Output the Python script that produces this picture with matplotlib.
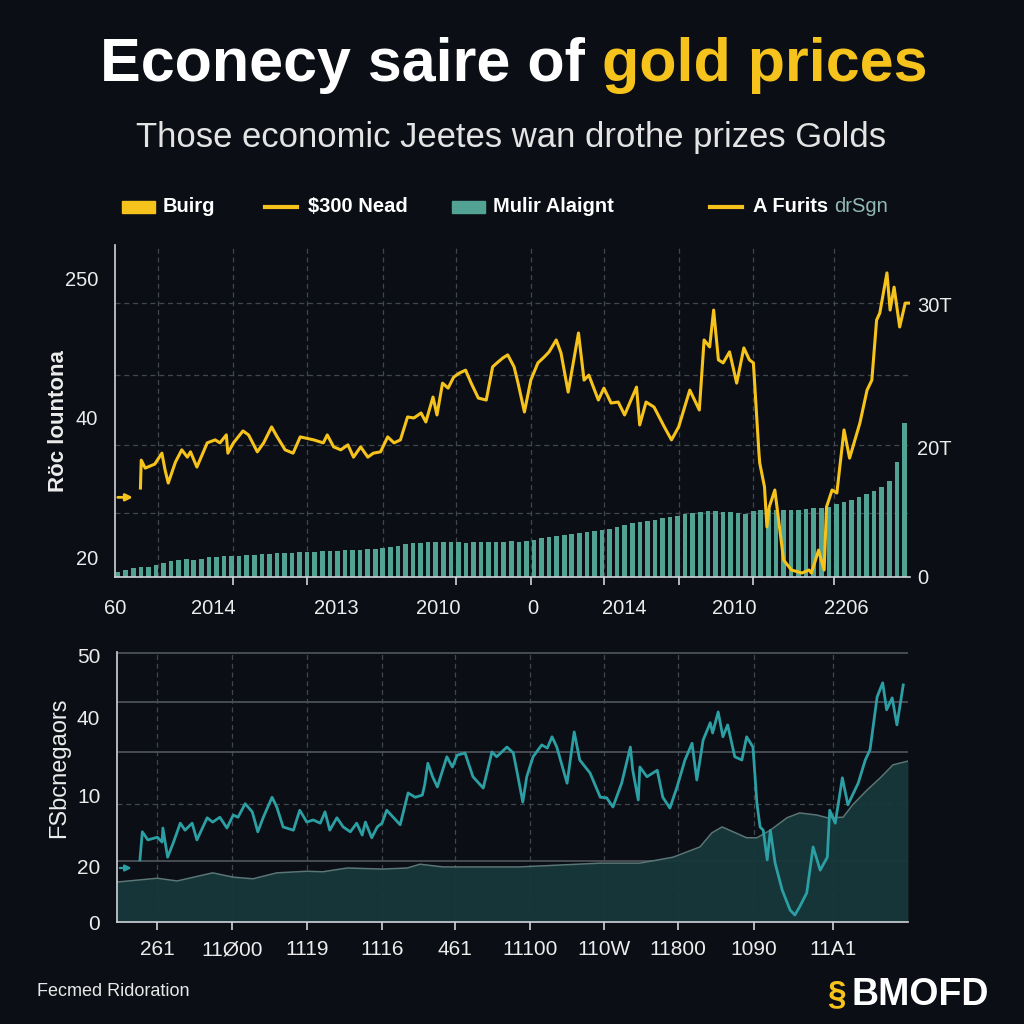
import matplotlib
matplotlib.use("Agg")
import matplotlib.pyplot as plt
from matplotlib.patches import Rectangle
from matplotlib.lines import Line2D
import numpy as np

# ---- colours
BG = "#0b0e15"
GOLD = "#f6c31c"
TEAL_BAR = "#52a393"
TEAL_LINE = "#2b9fa3"
AREA_FILL = "#17383b"
AREA_EDGE = "#5b7676"
GRID = "#41464e"
SPINE = "#d0d3d8"
TXT = "#ececec"

# ---- top panel data (index units, 0..100)
gold_x = [3.2, 3.3, 3.8, 5.0, 5.9, 6.3, 6.7, 7.6, 8.4, 9.1, 9.5, 10.3, 11.6, 12.6, 13.2,
          14.0, 14.2, 14.9, 16.1, 16.8, 17.9, 18.7, 19.7, 20.4, 21.4, 22.4, 23.3, 25.0,
          26.2, 26.7, 27.5, 28.4, 29.3, 30.0, 30.9, 31.8, 32.5, 33.4, 34.3, 35.1, 35.9,
          36.8, 37.6, 38.5, 39.1, 40.0, 40.5, 41.2, 41.9, 42.6, 43.3, 44.1, 44.8, 45.7,
          46.7, 47.5, 48.2, 48.8, 49.4, 50.2, 50.7, 51.5, 52.3, 53.2, 54.0, 54.6, 55.5,
          56.1, 57.0, 58.3, 59.0, 59.6, 60.8, 61.5, 62.4, 63.3, 64.1, 65.6, 66.0, 66.8,
          67.8, 69.1, 70.0, 70.9, 72.3, 73.5, 74.1, 74.8, 75.3, 75.9, 76.5, 77.3, 78.2,
          79.1, 79.8, 80.3, 81.0, 81.1, 81.7, 82.0, 82.3, 83.0, 84.1, 85.1, 86.4, 87.3,
          87.6, 88.5, 89.2, 89.5, 90.2, 90.8, 91.7, 92.4, 93.7, 94.6, 95.2, 95.8, 96.2,
          97.1, 97.5, 98.0, 98.7, 99.4, 99.9]
gold_y = [26.8, 35.2, 32.8, 34.0, 37.3, 32.2, 28.3, 34.6, 38.3, 36.1, 37.7, 33.1, 40.4,
          41.3, 40.4, 42.8, 37.3, 40.4, 44.0, 42.8, 37.7, 40.4, 45.2, 42.2, 38.3, 37.3,
          42.2, 41.3, 40.4, 42.8, 39.2, 38.3, 39.8, 36.1, 39.2, 36.1, 37.3, 37.7, 42.2,
          40.4, 41.3, 48.2, 47.9, 49.4, 46.7, 54.2, 48.8, 58.4, 56.9, 60.2, 61.4, 62.3,
          58.4, 53.9, 53.3, 63.3, 64.8, 66.0, 66.9, 63.3, 58.4, 49.7, 59.3, 64.5, 66.3,
          67.8, 71.4, 67.5, 55.7, 73.5, 59.3, 60.8, 53.3, 56.9, 52.4, 52.7, 48.8, 57.2,
          45.8, 52.7, 51.2, 45.2, 41.3, 45.2, 56.3, 50.3, 71.4, 69.3, 80.4, 65.4, 64.5,
          67.8, 58.4, 69.0, 65.4, 64.5, 37.3, 34.3, 27.1, 15.1, 21.1, 26.2, 5.1, 2.1,
          1.2, 2.1, 1.2, 8.1, 2.1, 21.1, 26.2, 25.3, 44.3, 35.8, 46.4, 56.3, 59.3, 77.4,
          79.5, 91.6, 80.4, 87.3, 75.3, 82.5, 82.5]

bar_h = [1.5, 2.1, 2.7, 3.0, 3.0, 3.6, 4.2, 4.8, 5.1, 5.4, 5.1, 5.4, 6.0, 6.0, 6.3, 6.3,
         6.3, 6.6, 6.6, 6.9, 6.9, 7.2, 7.2, 7.2, 7.5, 7.5, 7.5, 7.8, 7.8, 7.8, 8.1, 8.1,
         8.1, 8.4, 8.4, 8.7, 9.0, 9.3, 9.9, 10.2, 10.2, 10.5, 10.5, 10.5, 10.5, 10.5, 10.2,
         10.5, 10.5, 10.5, 10.5, 10.5, 10.8, 10.5, 10.8, 11.1, 11.7, 12.0, 12.3, 12.7,
         13.0, 13.3, 13.6, 13.9, 14.2, 14.5, 15.1, 15.7, 16.3, 16.6, 16.9, 17.2, 17.8,
         18.1, 18.4, 19.0, 19.3, 19.6, 19.9, 19.9, 19.6, 19.6, 19.3, 19.0, 19.9, 20.2,
         20.2, 20.2, 20.2, 20.2, 20.2, 20.5, 20.8, 20.8, 21.1, 22.0, 22.6, 23.2, 24.1,
         25.0, 25.9, 27.1, 28.9, 34.6, 46.4]

top_xlabels = ["60", "2014", "2013", "2010", "0", "2014", "2010", "2206"]
top_xlabel_pos = [0, 12.4, 27.9, 40.6, 52.5, 64.1, 77.9, 92.0]
top_xtick_pos = [14.8, 24.2, 42.9, 52.3, 61.5, 71.0, 80.3, 90.4]
top_vgrid = [5.4, 14.8, 24.2, 33.7, 42.9, 52.3, 61.5, 71.0, 80.3, 90.4]
top_hgrid = [19.3, 39.8, 60.8, 82.5]
top_left_labels = ["20", "40", "250"]
top_left_pos = [6, 48, 90]
top_right_labels = ["0", "20T", "30T"]
top_right_pos = [0, 39, 82]

# ---- bottom panel data
teal_x = [2.9, 3.2, 3.9, 5.1, 5.7, 5.8, 6.4, 7.1, 8.0, 8.6, 9.5, 10.1, 11.4, 12.1, 13.0,
          13.9, 14.7, 15.3, 16.2, 17.1, 17.8, 18.5, 19.6, 20.2, 21.0, 22.3, 23.1, 24.0,
          24.8, 25.7, 26.3, 26.9, 27.8, 28.6, 29.5, 30.3, 31.0, 31.4, 32.2, 32.9, 33.5,
          34.1, 35.8, 36.8, 37.7, 38.6, 38.9, 39.3, 39.9, 40.5, 41.7, 42.4, 43.0, 44.0,
          45.0, 46.3, 47.4, 48.0, 49.3, 50.1, 50.6, 51.3, 51.8, 52.6, 53.7, 54.4, 55.0,
          55.6, 56.9, 57.8, 58.5, 59.8, 61.1, 61.9, 62.7, 63.8, 64.9, 65.2, 65.9, 66.1,
          67.0, 68.3, 69.0, 69.9, 70.8, 71.8, 72.7, 73.3, 74.1, 75.0, 75.3, 76.0, 76.6,
          77.2, 78.1, 79.0, 79.6, 80.4, 80.9, 81.3, 81.7, 82.2, 82.6, 83.2, 84.1, 85.1,
          85.7, 86.3, 87.2, 88.0, 88.9, 89.8, 90.1, 90.8, 91.7, 92.4, 93.7, 94.6, 95.2,
          96.1, 96.8, 97.3, 98.0, 98.6, 99.4]
teal_y = [11.5, 16.7, 15.2, 15.7, 14.8, 17.4, 12.0, 14.6, 18.3, 17.0, 18.3, 15.2, 19.3,
          18.5, 19.4, 17.4, 19.8, 19.4, 21.9, 20.4, 16.7, 19.4, 23.1, 21.3, 17.6, 17.0,
          20.7, 18.5, 18.9, 18.3, 20.4, 17.0, 19.3, 17.6, 16.7, 18.3, 16.1, 18.5, 15.6,
          17.6, 18.3, 20.7, 18.0, 23.9, 23.1, 23.5, 25.4, 29.4, 26.9, 25.0, 30.6, 28.7,
          30.9, 31.3, 26.9, 24.8, 31.5, 30.6, 32.4, 31.3, 27.6, 22.2, 26.9, 30.6, 32.8,
          32.2, 34.3, 32.4, 25.7, 35.2, 30.0, 27.6, 23.1, 23.0, 21.3, 25.7, 32.4, 28.1,
          22.6, 28.7, 26.9, 28.1, 23.1, 21.1, 25.0, 30.0, 33.1, 26.3, 33.7, 36.9, 35.0,
          38.9, 34.3, 36.5, 30.6, 30.0, 34.3, 32.4, 22.0, 17.6, 17.0, 11.5, 17.0, 10.9,
          5.9, 2.2, 1.3, 2.8, 5.4, 13.9, 9.6, 12.0, 20.7, 18.3, 26.7, 21.7, 25.7, 30.0,
          31.9, 41.7, 44.3, 39.3, 41.5, 36.5, 43.9]

area_x = [0, 5.1, 7.6, 12.1, 14.7, 17.2, 20.2, 24.0, 26.0, 29.1, 33.6, 36.7, 38.3, 41.2,
          50.9, 61.1, 66.1, 70.3, 73.7, 75.2, 76.5, 77.9, 79.6, 80.9, 82.6, 84.7, 86.3,
          88.5, 89.8, 91.8, 93.0, 94.8, 96.5, 98.1, 100]
area_y = [7.4, 8.1, 7.6, 9.1, 8.3, 8.0, 9.1, 9.4, 9.3, 10.0, 9.8, 10.0, 10.7, 10.2, 10.2,
          10.9, 10.9, 12.0, 13.9, 16.5, 17.6, 16.7, 15.6, 15.6, 17.0, 19.3, 20.2, 19.8,
          19.3, 19.4, 21.7, 24.4, 26.7, 29.1, 29.8]

bot_xlabels = ["261", "11Ø00", "1119", "1116", "461", "11100", "110W", "11800", "1090", "11A1"]
bot_xpos = [5.1, 14.5, 24.0, 33.5, 42.7, 52.2, 61.6, 70.9, 80.5, 90.5]
bot_solid_h = [11.3, 31.5, 40.7, 49.8]
bot_dash_h = [21.9]
bot_ylabels = ["0", "20", "10", "40", "50"]
bot_ypos = [0, 10.2, 23.5, 37.8, 49.4]

legend_items = [("rect", GOLD, "Buirg"), ("line", GOLD, "$300 Nead"),
                ("rect", TEAL_BAR, "Mulir Alaignt"), ("line", GOLD, "A Furits")]

plt.rcParams["font.family"] = ["Liberation Sans", "DejaVu Sans"]

fig = plt.figure(figsize=(10.24, 10.24), dpi=100, facecolor=BG)


def style_axes(ax):
    ax.set_facecolor(BG)
    for s in ["top", "right"]:
        ax.spines[s].set_visible(False)
    for s in ["left", "bottom"]:
        ax.spines[s].set_color(SPINE)
        ax.spines[s].set_linewidth(1.2)
    ax.tick_params(colors=TXT, labelsize=14.5, length=0)
    ax.set_xlim(0, 100)


# ================= top panel
ax = fig.add_axes([115 / 1024, 1 - 577 / 1024, 795 / 1024, 332 / 1024])
style_axes(ax)
ax.set_ylim(0, 100)
for v in top_vgrid:
    ax.axvline(v, color=GRID, lw=0.9, ls=(0, (4, 3)), zorder=0)
for h in top_hgrid:
    ax.axhline(h, color=GRID, lw=0.9, ls=(0, (4, 3)), zorder=0)
bar_pos = np.linspace(0.4, 99.3, len(bar_h))
ax.bar(bar_pos, bar_h, width=0.58, color=TEAL_BAR, zorder=2)
ax.plot(gold_x, gold_y, color=GOLD, lw=2.2, zorder=4, solid_joinstyle="round")
ax.annotate("", xy=(2.6, 24), xytext=(0, 24),
            arrowprops=dict(arrowstyle="-|>", color=GOLD, lw=2, mutation_scale=10))
ax.set_xticks(top_xlabel_pos)
ax.set_xticklabels(top_xlabels)
ax.set_xticks(top_xtick_pos, minor=True)
ax.tick_params(axis="x", which="major", pad=16)
ax.tick_params(axis="x", which="minor", length=6, width=1.2, color=SPINE)
ax.set_yticks(top_left_pos)
ax.set_yticklabels(top_left_labels)
ax.tick_params(axis="y", pad=12)
ax.set_ylabel("Röc lountona", color=TXT, fontsize=16, fontweight="bold")
ax.yaxis.set_label_coords(-0.058, 0.47)

ax2 = ax.twinx()
ax2.set_ylim(0, 100)
for s in ax2.spines.values():
    s.set_visible(False)
ax2.set_yticks(top_right_pos)
ax2.set_yticklabels(top_right_labels)
ax2.tick_params(colors=TXT, labelsize=14.5, length=0, pad=5)

# ================= bottom panel
bx = fig.add_axes([117 / 1024, 1 - 922 / 1024, 791 / 1024, 270 / 1024])
style_axes(bx)
bx.set_ylim(0, 50)
for v in bot_xpos:
    bx.axvline(v, color=GRID, lw=0.9, ls=(0, (4, 3)), zorder=0)
for h in bot_solid_h:
    bx.axhline(h, color="#4c5058", lw=1.3, zorder=0)
for h in bot_dash_h:
    bx.axhline(h, color=GRID, lw=0.9, ls=(0, (4, 3)), zorder=0)
bx.fill_between(area_x, area_y, 0, color=AREA_FILL, alpha=0.95, zorder=1, lw=0)
bx.plot(area_x, area_y, color=AREA_EDGE, lw=1.1, zorder=2)
bx.plot(teal_x, teal_y, color=TEAL_LINE, lw=2.0, zorder=4, solid_joinstyle="round")
bx.annotate("", xy=(2.2, 10.0), xytext=(0, 10.0),
            arrowprops=dict(arrowstyle="-|>", color=TEAL_LINE, lw=1.6, mutation_scale=9))
bx.set_xticks(bot_xpos)
bx.set_xticklabels(bot_xlabels)
bx.tick_params(axis="x", length=6, width=1.2, color=SPINE, pad=7, labelsize=15)
bx.set_yticks(bot_ypos)
bx.set_yticklabels(bot_ylabels)
bx.tick_params(axis="y", pad=12, labelsize=15)
bx.set_ylabel("FSbcnegaors", color=TXT, fontsize=17)
bx.yaxis.set_label_coords(-0.059, 0.57)

# ================= overlay for titles, legend, footer (pixel units)
ov = fig.add_axes([0, 0, 1, 1], zorder=10)
ov.set_xlim(0, 1024)
ov.set_ylim(1024, 0)
ov.axis("off")

renderer = fig.canvas.get_renderer()

# title in two colours, fitted to the reference width
t1 = ov.text(0, 66, "Econecy saire of ", color="white", fontsize=48,
             fontweight="bold", va="center", ha="left")
t2 = ov.text(0, 66, "gold prices", color=GOLD, fontsize=48,
             fontweight="bold", va="center", ha="left")
w = t1.get_window_extent(renderer).width + t2.get_window_extent(renderer).width
scale = 826 / w
t1.set_fontsize(48 * scale)
t2.set_fontsize(48 * scale)
w1 = t1.get_window_extent(renderer).width
t1.set_x(100)
t2.set_x(100 + w1)

sub = ov.text(511, 138, "Those economic Jeetes wan drothe prizes Golds", color="#e4e4e4",
              fontsize=24, va="center", ha="center")
sw = sub.get_window_extent(renderer).width
sub.set_fontsize(24 * 748 / sw)

# legend
leg_x = [122, 265, 452, 710]
for (kind, col, label), x0 in zip(legend_items, leg_x):
    if kind == "rect":
        ov.add_patch(Rectangle((x0, 201), 33, 12, color=col))
        tx = x0 + 41
    else:
        ov.add_line(Line2D([x0, x0 + 32], [207, 207], color=col, lw=3))
        tx = x0 + 43
    tl = ov.text(tx, 207, label, color="white", fontsize=14.5, fontweight="bold",
                 va="center", ha="left")
    if label == "A Furits":
        ex = tl.get_window_extent(renderer)
        ov.text(tx + ex.width + 6, 207, "drSgn", color="#93b9b6", fontsize=14.5,
                va="center", ha="left")

# footer
ov.text(37, 992, "Fecmed Ridoration", color="#e8e8e8", fontsize=13, va="center", ha="left")
ov.text(836, 995, "§", color=GOLD, fontsize=24, fontweight="bold", va="center", ha="center")
ov.text(851, 995, "BMOFD", color="white", fontsize=27, fontweight="bold",
        va="center", ha="left")

fig.savefig("out.png", dpi=100, facecolor=BG)
